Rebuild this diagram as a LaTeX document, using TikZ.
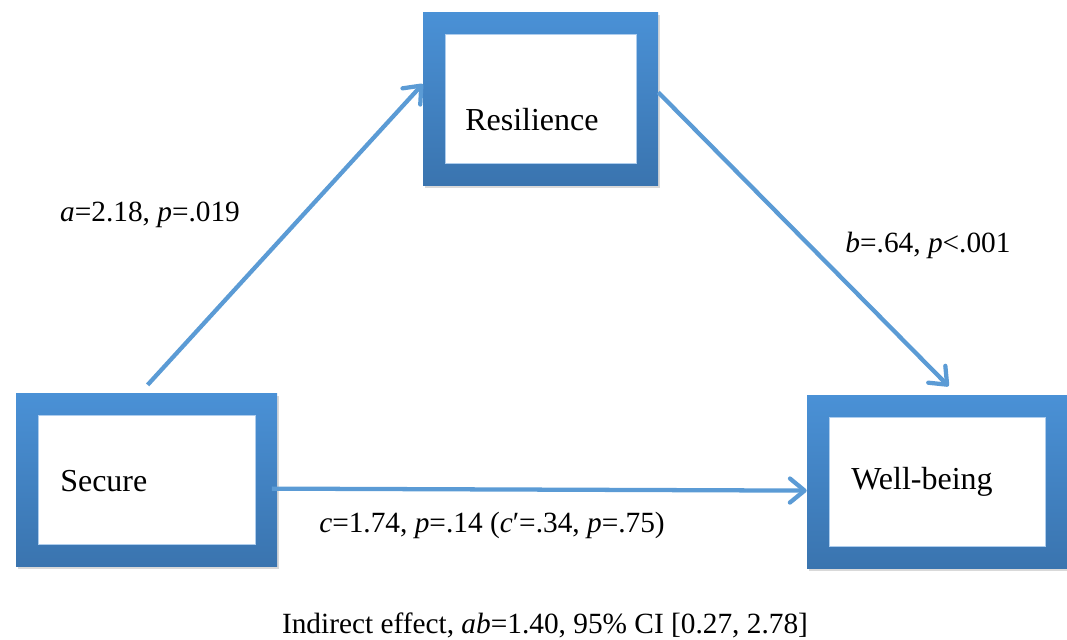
\documentclass[tikz,border=0pt]{standalone}
\usepackage{fontspec}
\setmainfont{Liberation Serif}
\usetikzlibrary{arrows.meta,shadows}

\definecolor{boxtop}{HTML}{4A91D6}
\definecolor{boxbot}{HTML}{3A74AF}
\definecolor{arrowblue}{HTML}{5B9BD5}

\begin{document}
\begin{tikzpicture}[x=0.75pt,y=-0.75pt]
      \useasboundingbox (0,0) rectangle (1067,639);

      \begin{scope}[every node/.style={rectangle,inner sep=0pt,minimum height=129.75pt,
          top color=boxtop,bottom color=boxbot,
          drop shadow={shadow xshift=1.5pt,shadow yshift=-2.5pt,opacity=.3},
          path picture={\fill[white,draw=boxtop!45,line width=.6pt]
            ([shift={(16.5pt,16.5pt)}]path picture bounding box.south west) rectangle
            ([shift={(-16.5pt,-16.5pt)}]path picture bounding box.north east);}}]
        \node[minimum width=176.25pt] (resil)  at (540.5,98.5)  {};
        \node[minimum width=195.75pt] (secure) at (146.5,479.5) {};
        \node[minimum width=195pt]    (well)   at (937,481.5)   {};
      \end{scope}

      \begin{scope}[every node/.style={anchor=west,inner sep=0pt,font=\fontsize{24}{28}\selectfont}]
        \node (resiltext)  at (465,120) {Resilience};
        \node (securetext) at (60,481)  {Secure};
        \node (welltext)   at (851,482) {Well-being};
      \end{scope}

      \begin{scope}[every node/.style={inner sep=0pt,font=\fontsize{22}{26}\selectfont}]
        \node (alab) at (150,215) {\textit{a}=2.18, \textit{p}=.019};
        \node (blab) at (928,245) {\textit{b}=.64, \textit{p}<.001};
        \node (clab) at (492,525) {\textit{c}=1.74, \textit{p}=.14 (\textit{c}′=.34, \textit{p}=.75)};
        \node (ind)  at (545,625) {Indirect effect, \textit{ab}=1.40, 95\% CI [0.27, 2.78]};
      \end{scope}

      \begin{scope}[every edge/.style={draw=arrowblue,line width=3.2pt,
          -{Straight Barb[length=11pt,width=18pt,round]}}]
        \path (secure.94.6) edge[shorten <=8pt]  (resil.173.4);
        \path (resil.3)     edge[shorten >=9pt]  (well.77);
        \path (secure.-4)   edge[shorten <=-4pt] (well.184);
      \end{scope}

    \end{tikzpicture}
\end{document}
